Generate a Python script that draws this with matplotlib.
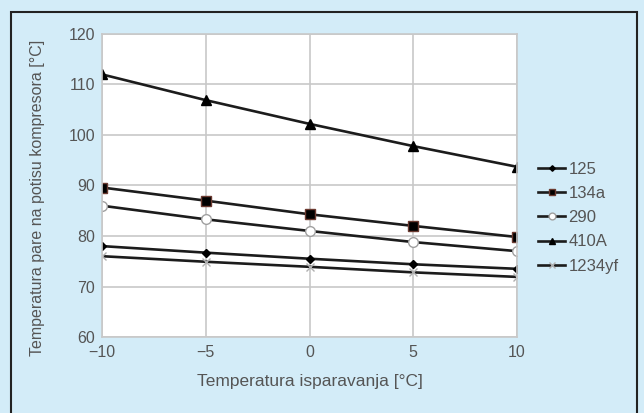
import matplotlib.pyplot as plt
from matplotlib.patches import Rectangle

plt.rcParams['font.family'] = ['Liberation Sans', 'DejaVu Sans']

# evaporation temperature [°C]
t_evap = [-10, -5, 0, 5, 10]

# discharge temperature [°C] per refrigerant
r125 = [78, 76.7, 75.5, 74.4, 73.5]
r134a = [89.6, 87, 84.3, 82, 79.8]
r290 = [86, 83.3, 81, 78.8, 77]
r410a = [112, 106.9, 102.2, 97.8, 93.7]
r1234yf = [76, 74.9, 73.9, 72.8, 71.9]

labels = ['125', '134a', '290', '410A', '1234yf']

bg = '#d3ecf8'
fig = plt.figure(figsize=(6.44, 4.13), dpi=100, facecolor=bg)
ax = fig.add_axes([0.1584, 0.184, 0.6444, 0.7337])
ax.set_facecolor('white')

line_kw = dict(color='#1c1c1c', linewidth=1.9)
ax.plot(t_evap, r125, marker='D', markersize=4, markerfacecolor='black',
        markeredgecolor='black', label=labels[0], **line_kw)
ax.plot(t_evap, r134a, marker='s', markersize=7, markerfacecolor='black',
        markeredgecolor='#6b3a30', label=labels[1], **line_kw)
ax.plot(t_evap, r290, marker='o', markersize=7, markerfacecolor='white',
        markeredgecolor='#a0a0a0', label=labels[2], **line_kw)
ax.plot(t_evap, r410a, marker='^', markersize=7, markerfacecolor='black',
        markeredgecolor='black', label=labels[3], **line_kw)
ax.plot(t_evap, r1234yf, marker='x', markersize=6, markeredgecolor='#b0b0b0',
        label=labels[4], **line_kw)

ax.set_xlim(-10, 10)
ax.set_ylim(60, 120)
ax.set_xticks(t_evap)
ax.set_xticklabels(['\u221210', '\u22125', '0', '5', '10'])
ax.set_yticks(range(60, 121, 10))
ax.grid(True, color='#c8c8c8', linewidth=1.2)
ax.set_axisbelow(True)
for s in ax.spines.values():
    s.set_color('#c8c8c8')
    s.set_linewidth(1.2)
ax.tick_params(length=0, labelsize=11.5, labelcolor='#555555')
ax.tick_params(axis='x', pad=6)
ax.tick_params(axis='y', pad=5)

ax.set_xlabel('Temperatura isparavanja [°C]', fontsize=12.5, color='#555555', labelpad=10)
ax.set_ylabel('Temperatura pare na potisu kompresora [°C]', fontsize=11.5,
              color='#555555')
ax.yaxis.set_label_coords(-0.137, 0.46)

ax.legend(loc='upper left', bbox_to_anchor=(0.823, 0.628), bbox_transform=fig.transFigure,
          frameon=False, handlelength=1.6, handletextpad=0.2, labelspacing=0.55,
          fontsize=12, labelcolor='#555555', markerscale=0.7, borderpad=0)

# outer frame
fig.patches.append(Rectangle((11 / 644, -0.1), (637 - 11) / 644, 1.1 - 12 / 413,
                             transform=fig.transFigure, fill=False,
                             edgecolor='#222222', linewidth=1.5))

fig.savefig('out.png', dpi=100, facecolor=bg)
